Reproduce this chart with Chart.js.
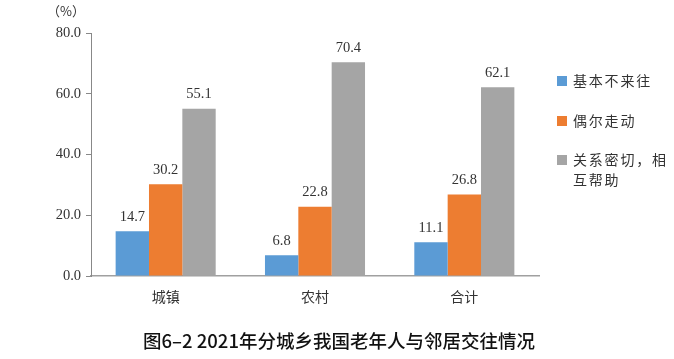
<!DOCTYPE html>
<html><head><meta charset="utf-8">
<script src="https://cdn.jsdelivr.net/npm/chart.js@4/dist/chart.umd.min.js"></script>
<style>html,body{margin:0;padding:0;background:#fff;}#wrap{width:674px;height:359px;position:relative;}</style>
</head><body><div id="wrap"><canvas id="c" width="674" height="359"></canvas></div>
<script>
const categories = ['城镇', '农村', '合计'];
const seriesNames = ['基本不来往', '偶尔走动', '关系密切，相互帮助'];
const legendLines = [['基本不来往'], ['偶尔走动'], ['关系密切，相', '互帮助']];
const noContact = [14.7, 6.8, 11.1];
const occasional = [30.2, 22.8, 26.8];
const close = [55.1, 70.4, 62.1];
const colors = ['#5B9BD5', '#ED7D31', '#A5A5A5'];
const yTicks = [0, 20, 40, 60, 80];
const titleText = '图6–2 2021年分城乡我国老年人与邻居交往情况';
const unitText = '（%）';

const serif = '"Liberation Serif", "DejaVu Serif", serif';
const cjk = '"Noto Sans CJK SC", sans-serif';

const labelsPlugin = {
  id: 'extras',
  afterDatasetsDraw(chart) {
    const ctx = chart.ctx;
    ctx.save();
    ctx.fillStyle = '#333';
    ctx.font = '14.5px ' + serif;
    ctx.textAlign = 'center';
    ctx.textBaseline = 'bottom';
    chart.data.datasets.forEach((ds, i) => {
      chart.getDatasetMeta(i).data.forEach((bar, j) => {
        ctx.fillText(ds.data[j].toFixed(1), bar.x, bar.y - 7);
      });
    });
    // legend
    ctx.textAlign = 'left';
    ctx.textBaseline = 'middle';
    ctx.font = '14px ' + cjk;
    ctx.letterSpacing = '1.8px';
    const ys = [81, 121, 160];
    legendLines.forEach((lines, i) => {
      ctx.fillStyle = colors[i];
      ctx.fillRect(557, ys[i] - 5, 10, 10);
      ctx.fillStyle = '#333';
      lines.forEach((t, k) => ctx.fillText(t, 573, ys[i] + k * 20));
    });
    ctx.letterSpacing = '0px';
    // unit
    ctx.font = '13px ' + cjk;
    ctx.fillStyle = '#333';
    ctx.textAlign = 'center';
    ctx.fillText(unitText, 66, 11);
    // title
    ctx.font = '500 18.5px ' + cjk;
    ctx.fillStyle = '#111';
    ctx.fillText(titleText, 339, 341);
    ctx.restore();
  }
};

new Chart(document.getElementById('c'), {
  type: 'bar',
  data: {
    labels: categories,
    datasets: [
      { label: seriesNames[0], data: noContact, backgroundColor: colors[0] },
      { label: seriesNames[1], data: occasional, backgroundColor: colors[1] },
      { label: seriesNames[2], data: close, backgroundColor: colors[2] }
    ]
  },
  options: {
    responsive: false,
    animation: false,
    devicePixelRatio: 1,
    layout: { padding: { left: 0, right: 135, top: 33, bottom: 0 } },
    datasets: { bar: { categoryPercentage: 0.67, barPercentage: 1.0, borderWidth: 0 } },
    plugins: { legend: { display: false }, tooltip: { enabled: false } },
    scales: {
      x: {
        grid: { display: false, drawTicks: false },
        border: { display: true, color: '#A0A0A0', width: 1.5 },
        ticks: { color: '#333', font: { family: cjk, size: 14 }, padding: 12 },
        afterFit(s) { s.height = 83; }
      },
      y: {
        min: 0, max: 80,
        afterBuildTicks(s) { s.ticks = yTicks.map(v => ({ value: v })); },
        grid: { drawOnChartArea: false, drawTicks: true, tickLength: 5, color: '#888' },
        border: { display: true, color: '#888', width: 1 },
        ticks: { color: '#333', font: { family: serif, size: 14.5 }, padding: 5, callback: v => Number(v).toFixed(1) },
        afterFit(s) { s.width = 91; }
      }
    }
  },
  plugins: [labelsPlugin]
});
</script></body></html>
